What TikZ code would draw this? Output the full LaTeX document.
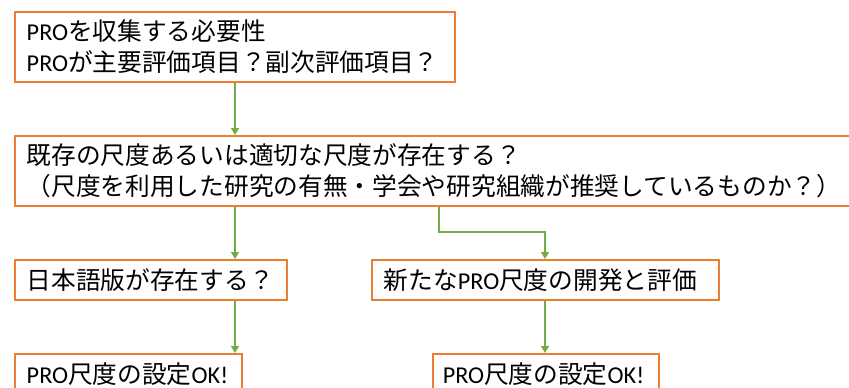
\documentclass[tikz,border=0pt]{standalone}
\usepackage{fontspec}
\setmainfont{Noto Sans CJK JP}
\newfontfamily\latfont{Carlito}[Scale=0.98]
\newcommand\la[1]{{\latfont #1}}
\usetikzlibrary{arrows.meta}
\definecolor{boxorange}{HTML}{ED7D31}
\definecolor{arrgreen}{HTML}{70AD47}
\tikzset{
  box/.style={draw=boxorange, line width=1.5pt, fill=white, anchor=north west,
    align=left, inner xsep=12pt, inner ysep=0pt, text=black,
    font=\fontsize{24.7}{31}\selectfont},
  arr/.style={draw=arrgreen, line width=1.5pt, -{Triangle[length=7pt,width=8pt]}}
}
\begin{document}
\begin{tikzpicture}[x=1pt,y=-1pt]
\useasboundingbox (0,0) rectangle (849,388);
\node[box, text width=416pt, minimum height=70pt] (b1) at (14,11)
  {\la{PRO}を収集する必要性\\\la{PRO}が主要評価項目？副次評価項目？};
\node[box, text width=814pt, minimum height=70pt] (b2) at (14,135)
  {既存の尺度あるいは適切な尺度が存在する？\\（尺度を利用した研究の有無・学会や研究組織が推奨しているものか？）};
\node[box, text width=248pt, minimum height=40pt] (b3) at (14,259) {日本語版が存在する？};
\node[box, text width=323pt, minimum height=40pt] (b4) at (371,259) {新たな\la{PRO}尺度の開発と評価};
\node[box, text width=203pt, minimum height=40pt, inner xsep=12pt] (b5) at (14,353) {\la{PRO}尺度の設定\la{OK!}};
\node[box, text width=206pt, minimum height=40pt, inner xsep=10pt] (b6) at (432,353) {\la{PRO}尺度の設定\la{OK!}};
\coordinate (xa) at (235,0);
\coordinate (xb) at (439,0);
\coordinate (xc) at (545,0);
\coordinate (ym) at (0,232);
\draw[arr] (b1.south -| xa) -- (b2.north -| xa);
\draw[arr] (b2.south -| xa) -- (b3.north -| xa);
\draw[arr] (b2.south -| xb) -- (xb |- ym) -- (xc |- ym) -- (b4.north -| xc);
\draw[arr] (b3.south -| xa) -- (b5.north -| xa);
\draw[arr] (b4.south -| xc) -- (b6.north -| xc);
\end{tikzpicture}
\end{document}
